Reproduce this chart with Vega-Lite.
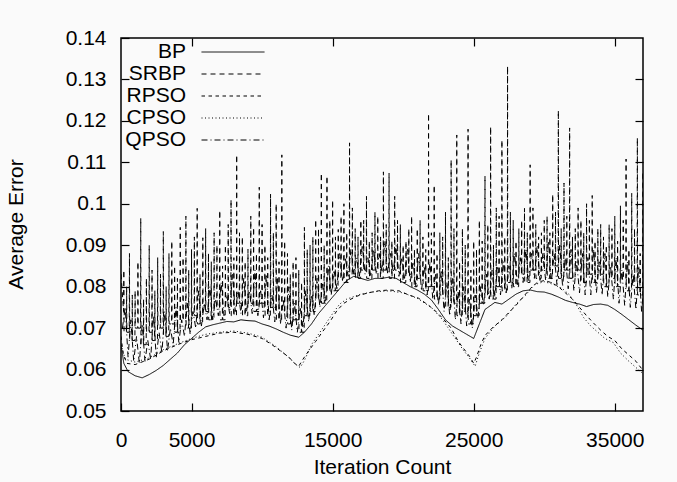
{
"$schema": "https://vega.github.io/schema/vega-lite/v6.json",
"autosize": {"type": "none"},
"padding": {"left": 121, "top": 38, "right": 34, "bottom": 71},
"width": 522,
"height": 373,
"background": "#fafafa",
"datasets": {
"d": [
{"s":"BP","x":0,"y":0.066},{"s":"BP","x":200,"y":0.0615},{"s":"BP","x":500,"y":0.0595},{"s":"BP","x":1000,"y":0.0585},{"s":"BP","x":1500,"y":0.058},{"s":"BP","x":2000,"y":0.0588},{"s":"BP","x":2500,"y":0.0598},{"s":"BP","x":3000,"y":0.061},{"s":"BP","x":3500,"y":0.0625},{"s":"BP","x":4000,"y":0.064},{"s":"BP","x":4500,"y":0.066},{"s":"BP","x":5000,"y":0.0675},{"s":"BP","x":5500,"y":0.069},{"s":"BP","x":6000,"y":0.0703},{"s":"BP","x":6500,"y":0.0708},{"s":"BP","x":7000,"y":0.0712},{"s":"BP","x":7500,"y":0.0716},{"s":"BP","x":8000,"y":0.0715},{"s":"BP","x":8500,"y":0.072},{"s":"BP","x":9000,"y":0.0718},{"s":"BP","x":9500,"y":0.0717},{"s":"BP","x":10000,"y":0.071},{"s":"BP","x":10500,"y":0.0705},{"s":"BP","x":11000,"y":0.0698},{"s":"BP","x":11500,"y":0.069},{"s":"BP","x":12000,"y":0.0683},{"s":"BP","x":12600,"y":0.0678},{"s":"BP","x":13000,"y":0.069},{"s":"BP","x":13500,"y":0.071},{"s":"BP","x":14000,"y":0.0735},{"s":"BP","x":14500,"y":0.0755},{"s":"BP","x":15000,"y":0.0775},{"s":"BP","x":15500,"y":0.0795},{"s":"BP","x":16000,"y":0.0815},{"s":"BP","x":16500,"y":0.0825},{"s":"BP","x":17000,"y":0.082},{"s":"BP","x":17500,"y":0.0815},{"s":"BP","x":18000,"y":0.082},{"s":"BP","x":18500,"y":0.082},{"s":"BP","x":19000,"y":0.0823},{"s":"BP","x":19500,"y":0.082},{"s":"BP","x":20000,"y":0.081},{"s":"BP","x":20500,"y":0.08},{"s":"BP","x":21000,"y":0.0792},{"s":"BP","x":21500,"y":0.0782},{"s":"BP","x":22000,"y":0.0768},{"s":"BP","x":22500,"y":0.0745},{"s":"BP","x":23000,"y":0.072},{"s":"BP","x":23500,"y":0.0705},{"s":"BP","x":24000,"y":0.0695},{"s":"BP","x":24500,"y":0.0685},{"s":"BP","x":25000,"y":0.0675},{"s":"BP","x":25400,"y":0.071},{"s":"BP","x":25800,"y":0.0745},{"s":"BP","x":26500,"y":0.0762},{"s":"BP","x":27000,"y":0.0758},{"s":"BP","x":27500,"y":0.077},{"s":"BP","x":28000,"y":0.0782},{"s":"BP","x":28500,"y":0.079},{"s":"BP","x":29000,"y":0.0792},{"s":"BP","x":29500,"y":0.0788},{"s":"BP","x":30000,"y":0.0787},{"s":"BP","x":30500,"y":0.0782},{"s":"BP","x":31000,"y":0.0775},{"s":"BP","x":31500,"y":0.0767},{"s":"BP","x":32000,"y":0.0762},{"s":"BP","x":32500,"y":0.0758},{"s":"BP","x":33000,"y":0.0752},{"s":"BP","x":33500,"y":0.0757},{"s":"BP","x":34000,"y":0.0758},{"s":"BP","x":34500,"y":0.0755},{"s":"BP","x":35000,"y":0.0745},{"s":"BP","x":35500,"y":0.0733},{"s":"BP","x":36000,"y":0.072},{"s":"BP","x":36500,"y":0.0707},{"s":"BP","x":37000,"y":0.0695},{"s":"BP","x":37500,"y":0.0683},

{"s":"RPSO","x":0,"y":0.068},{"s":"RPSO","x":150,"y":0.064},{"s":"RPSO","x":400,"y":0.0615},{"s":"RPSO","x":1000,"y":0.0612},{"s":"RPSO","x":2000,"y":0.0625},{"s":"RPSO","x":3000,"y":0.0645},{"s":"RPSO","x":4000,"y":0.066},{"s":"RPSO","x":5000,"y":0.0672},{"s":"RPSO","x":6000,"y":0.068},{"s":"RPSO","x":7000,"y":0.0688},{"s":"RPSO","x":8000,"y":0.069},{"s":"RPSO","x":9000,"y":0.0685},{"s":"RPSO","x":10000,"y":0.0675},{"s":"RPSO","x":10700,"y":0.066},{"s":"RPSO","x":11300,"y":0.0645},{"s":"RPSO","x":11900,"y":0.063},{"s":"RPSO","x":12300,"y":0.0615},{"s":"RPSO","x":12600,"y":0.0608},{"s":"RPSO","x":12900,"y":0.0625},{"s":"RPSO","x":13300,"y":0.0645},{"s":"RPSO","x":13800,"y":0.0668},{"s":"RPSO","x":14300,"y":0.0692},{"s":"RPSO","x":14800,"y":0.0715},{"s":"RPSO","x":15300,"y":0.0742},{"s":"RPSO","x":15800,"y":0.076},{"s":"RPSO","x":16300,"y":0.077},{"s":"RPSO","x":16800,"y":0.0778},{"s":"RPSO","x":17500,"y":0.0785},{"s":"RPSO","x":18250,"y":0.079},{"s":"RPSO","x":19000,"y":0.0792},{"s":"RPSO","x":19700,"y":0.079},{"s":"RPSO","x":20400,"y":0.078},{"s":"RPSO","x":21100,"y":0.0772},{"s":"RPSO","x":21800,"y":0.0755},{"s":"RPSO","x":22400,"y":0.0738},{"s":"RPSO","x":22900,"y":0.072},{"s":"RPSO","x":23400,"y":0.07},{"s":"RPSO","x":23900,"y":0.0668},{"s":"RPSO","x":24300,"y":0.065},{"s":"RPSO","x":24700,"y":0.0632},{"s":"RPSO","x":25000,"y":0.0615},{"s":"RPSO","x":25200,"y":0.063},{"s":"RPSO","x":25500,"y":0.066},{"s":"RPSO","x":25800,"y":0.0682},{"s":"RPSO","x":26300,"y":0.07},{"s":"RPSO","x":27000,"y":0.072},{"s":"RPSO","x":27500,"y":0.0738},{"s":"RPSO","x":28000,"y":0.0755},{"s":"RPSO","x":28500,"y":0.0775},{"s":"RPSO","x":29000,"y":0.0795},{"s":"RPSO","x":29500,"y":0.081},{"s":"RPSO","x":30000,"y":0.0815},{"s":"RPSO","x":30500,"y":0.081},{"s":"RPSO","x":31000,"y":0.08},{"s":"RPSO","x":31500,"y":0.0785},{"s":"RPSO","x":32000,"y":0.077},{"s":"RPSO","x":32500,"y":0.075},{"s":"RPSO","x":33000,"y":0.073},{"s":"RPSO","x":33500,"y":0.0712},{"s":"RPSO","x":34000,"y":0.0695},{"s":"RPSO","x":34500,"y":0.068},{"s":"RPSO","x":35000,"y":0.067},{"s":"RPSO","x":35500,"y":0.065},{"s":"RPSO","x":36000,"y":0.0635},{"s":"RPSO","x":36500,"y":0.062},{"s":"RPSO","x":37000,"y":0.0598},{"s":"RPSO","x":37500,"y":0.0575},

{"s":"CPSO","x":0,"y":0.066},{"s":"CPSO","x":300,"y":0.0625},{"s":"CPSO","x":1000,"y":0.0618},{"s":"CPSO","x":2000,"y":0.0628},{"s":"CPSO","x":3000,"y":0.0648},{"s":"CPSO","x":4000,"y":0.0662},{"s":"CPSO","x":5000,"y":0.0675},{"s":"CPSO","x":6000,"y":0.0685},{"s":"CPSO","x":7000,"y":0.069},{"s":"CPSO","x":8000,"y":0.0693},{"s":"CPSO","x":9000,"y":0.0688},{"s":"CPSO","x":10000,"y":0.0678},{"s":"CPSO","x":11000,"y":0.0655},{"s":"CPSO","x":11800,"y":0.0632},{"s":"CPSO","x":12400,"y":0.0612},{"s":"CPSO","x":12700,"y":0.0605},{"s":"CPSO","x":13000,"y":0.0622},{"s":"CPSO","x":13500,"y":0.066},{"s":"CPSO","x":14000,"y":0.0685},{"s":"CPSO","x":14500,"y":0.071},{"s":"CPSO","x":15000,"y":0.0735},{"s":"CPSO","x":15500,"y":0.0758},{"s":"CPSO","x":16000,"y":0.077},{"s":"CPSO","x":17000,"y":0.0782},{"s":"CPSO","x":18000,"y":0.0788},{"s":"CPSO","x":19000,"y":0.079},{"s":"CPSO","x":20000,"y":0.0785},{"s":"CPSO","x":21000,"y":0.0772},{"s":"CPSO","x":22000,"y":0.075},{"s":"CPSO","x":22800,"y":0.072},{"s":"CPSO","x":23500,"y":0.0685},{"s":"CPSO","x":24200,"y":0.065},{"s":"CPSO","x":24700,"y":0.0628},{"s":"CPSO","x":25100,"y":0.0608},{"s":"CPSO","x":25400,"y":0.064},{"s":"CPSO","x":25800,"y":0.0675},{"s":"CPSO","x":26500,"y":0.0705},{"s":"CPSO","x":27300,"y":0.0728},{"s":"CPSO","x":28000,"y":0.0758},{"s":"CPSO","x":28700,"y":0.078},{"s":"CPSO","x":29300,"y":0.0805},{"s":"CPSO","x":30000,"y":0.0812},{"s":"CPSO","x":30700,"y":0.0805},{"s":"CPSO","x":31300,"y":0.0795},{"s":"CPSO","x":31800,"y":0.078},{"s":"CPSO","x":32300,"y":0.0755},{"s":"CPSO","x":32800,"y":0.0725},{"s":"CPSO","x":33300,"y":0.0705},{"s":"CPSO","x":33800,"y":0.069},{"s":"CPSO","x":34300,"y":0.0675},{"s":"CPSO","x":34900,"y":0.0665},{"s":"CPSO","x":35400,"y":0.064},{"s":"CPSO","x":36000,"y":0.062},{"s":"CPSO","x":36500,"y":0.0605},{"s":"CPSO","x":37000,"y":0.059},{"s":"CPSO","x":37500,"y":0.0558},

{"s":"SRBP","x":0,"y":0.083},
{"s":"SRBP","x":185,"y":0.074},{"s":"SRBP","x":200,"y":0.084},{"s":"SRBP","x":215,"y":0.069},
{"s":"SRBP","x":385,"y":0.069},{"s":"SRBP","x":400,"y":0.08},{"s":"SRBP","x":415,"y":0.069},
{"s":"SRBP","x":585,"y":0.069},{"s":"SRBP","x":600,"y":0.088},{"s":"SRBP","x":615,"y":0.067},
{"s":"SRBP","x":785,"y":0.067},{"s":"SRBP","x":800,"y":0.078},{"s":"SRBP","x":815,"y":0.067},
{"s":"SRBP","x":985,"y":0.067},{"s":"SRBP","x":1000,"y":0.079},{"s":"SRBP","x":1015,"y":0.07},
{"s":"SRBP","x":1185,"y":0.07},{"s":"SRBP","x":1200,"y":0.086},{"s":"SRBP","x":1215,"y":0.07},
{"s":"SRBP","x":1385,"y":0.07},{"s":"SRBP","x":1400,"y":0.0965},{"s":"SRBP","x":1415,"y":0.066},
{"s":"SRBP","x":1585,"y":0.066},{"s":"SRBP","x":1600,"y":0.077},{"s":"SRBP","x":1615,"y":0.066},
{"s":"SRBP","x":1785,"y":0.066},{"s":"SRBP","x":1800,"y":0.082},{"s":"SRBP","x":1815,"y":0.069},
{"s":"SRBP","x":1985,"y":0.069},{"s":"SRBP","x":2000,"y":0.09},{"s":"SRBP","x":2015,"y":0.069},
{"s":"SRBP","x":2185,"y":0.069},{"s":"SRBP","x":2200,"y":0.084},{"s":"SRBP","x":2215,"y":0.067},
{"s":"SRBP","x":2385,"y":0.067},{"s":"SRBP","x":2400,"y":0.079},{"s":"SRBP","x":2415,"y":0.067},
{"s":"SRBP","x":2585,"y":0.067},{"s":"SRBP","x":2600,"y":0.087},{"s":"SRBP","x":2615,"y":0.07},
{"s":"SRBP","x":2785,"y":0.07},{"s":"SRBP","x":2800,"y":0.083},{"s":"SRBP","x":2815,"y":0.07},
{"s":"SRBP","x":2985,"y":0.07},{"s":"SRBP","x":3000,"y":0.0933},{"s":"SRBP","x":3015,"y":0.068},
{"s":"SRBP","x":3185,"y":0.068},{"s":"SRBP","x":3200,"y":0.08},{"s":"SRBP","x":3215,"y":0.068},
{"s":"SRBP","x":3385,"y":0.068},{"s":"SRBP","x":3400,"y":0.088},{"s":"SRBP","x":3415,"y":0.071},
{"s":"SRBP","x":3585,"y":0.071},{"s":"SRBP","x":3600,"y":0.091},{"s":"SRBP","x":3615,"y":0.071},
{"s":"SRBP","x":3785,"y":0.071},{"s":"SRBP","x":3800,"y":0.085},{"s":"SRBP","x":3815,"y":0.069},
{"s":"SRBP","x":3985,"y":0.069},{"s":"SRBP","x":4000,"y":0.082},{"s":"SRBP","x":4015,"y":0.069},
{"s":"SRBP","x":4185,"y":0.069},{"s":"SRBP","x":4200,"y":0.0943},{"s":"SRBP","x":4215,"y":0.072},
{"s":"SRBP","x":4385,"y":0.072},{"s":"SRBP","x":4400,"y":0.087},{"s":"SRBP","x":4415,"y":0.072},
{"s":"SRBP","x":4585,"y":0.072},{"s":"SRBP","x":4600,"y":0.097},{"s":"SRBP","x":4615,"y":0.07},
{"s":"SRBP","x":4785,"y":0.07},{"s":"SRBP","x":4800,"y":0.084},{"s":"SRBP","x":4815,"y":0.07},
{"s":"SRBP","x":4985,"y":0.07},{"s":"SRBP","x":5000,"y":0.089},{"s":"SRBP","x":5015,"y":0.073},
{"s":"SRBP","x":5185,"y":0.073},{"s":"SRBP","x":5200,"y":0.092},{"s":"SRBP","x":5215,"y":0.073},
{"s":"SRBP","x":5385,"y":0.073},{"s":"SRBP","x":5400,"y":0.0989},{"s":"SRBP","x":5415,"y":0.071},
{"s":"SRBP","x":5585,"y":0.071},{"s":"SRBP","x":5600,"y":0.083},{"s":"SRBP","x":5615,"y":0.071},
{"s":"SRBP","x":5785,"y":0.071},{"s":"SRBP","x":5800,"y":0.0918},{"s":"SRBP","x":5815,"y":0.074},
{"s":"SRBP","x":5985,"y":0.074},{"s":"SRBP","x":6000,"y":0.094},{"s":"SRBP","x":6015,"y":0.074},
{"s":"SRBP","x":6185,"y":0.074},{"s":"SRBP","x":6200,"y":0.088},{"s":"SRBP","x":6215,"y":0.072},
{"s":"SRBP","x":6385,"y":0.072},{"s":"SRBP","x":6400,"y":0.086},{"s":"SRBP","x":6415,"y":0.072},
{"s":"SRBP","x":6585,"y":0.072},{"s":"SRBP","x":6600,"y":0.093},{"s":"SRBP","x":6615,"y":0.075},
{"s":"SRBP","x":6785,"y":0.075},{"s":"SRBP","x":6800,"y":0.09},{"s":"SRBP","x":6815,"y":0.075},
{"s":"SRBP","x":6985,"y":0.075},{"s":"SRBP","x":7000,"y":0.0984},{"s":"SRBP","x":7015,"y":0.072},
{"s":"SRBP","x":7185,"y":0.072},{"s":"SRBP","x":7200,"y":0.085},{"s":"SRBP","x":7215,"y":0.072},
{"s":"SRBP","x":7385,"y":0.072},{"s":"SRBP","x":7400,"y":0.09},{"s":"SRBP","x":7415,"y":0.075},
{"s":"SRBP","x":7585,"y":0.075},{"s":"SRBP","x":7600,"y":0.095},{"s":"SRBP","x":7615,"y":0.075},
{"s":"SRBP","x":7785,"y":0.075},{"s":"SRBP","x":7800,"y":0.101},{"s":"SRBP","x":7815,"y":0.073},
{"s":"SRBP","x":7985,"y":0.073},{"s":"SRBP","x":8000,"y":0.087},{"s":"SRBP","x":8015,"y":0.073},
{"s":"SRBP","x":8185,"y":0.073},{"s":"SRBP","x":8200,"y":0.1118},{"s":"SRBP","x":8215,"y":0.076},
{"s":"SRBP","x":8385,"y":0.076},{"s":"SRBP","x":8400,"y":0.093},{"s":"SRBP","x":8415,"y":0.076},
{"s":"SRBP","x":8585,"y":0.076},{"s":"SRBP","x":8600,"y":0.092},{"s":"SRBP","x":8615,"y":0.073},
{"s":"SRBP","x":8785,"y":0.073},{"s":"SRBP","x":8800,"y":0.086},{"s":"SRBP","x":8815,"y":0.073},
{"s":"SRBP","x":8985,"y":0.073},{"s":"SRBP","x":9000,"y":0.089},{"s":"SRBP","x":9015,"y":0.076},
{"s":"SRBP","x":9185,"y":0.076},{"s":"SRBP","x":9200,"y":0.097},{"s":"SRBP","x":9215,"y":0.076},
{"s":"SRBP","x":9385,"y":0.076},{"s":"SRBP","x":9400,"y":0.0943},{"s":"SRBP","x":9415,"y":0.074},
{"s":"SRBP","x":9585,"y":0.074},{"s":"SRBP","x":9600,"y":0.088},{"s":"SRBP","x":9615,"y":0.074},
{"s":"SRBP","x":9785,"y":0.074},{"s":"SRBP","x":9800,"y":0.104},{"s":"SRBP","x":9815,"y":0.076},
{"s":"SRBP","x":9985,"y":0.076},{"s":"SRBP","x":10000,"y":0.095},{"s":"SRBP","x":10015,"y":0.076},
{"s":"SRBP","x":10185,"y":0.076},{"s":"SRBP","x":10200,"y":0.09},{"s":"SRBP","x":10215,"y":0.073},
{"s":"SRBP","x":10385,"y":0.073},{"s":"SRBP","x":10400,"y":0.087},{"s":"SRBP","x":10415,"y":0.073},
{"s":"SRBP","x":10585,"y":0.073},{"s":"SRBP","x":10600,"y":0.1023},{"s":"SRBP","x":10615,"y":0.075},
{"s":"SRBP","x":10785,"y":0.075},{"s":"SRBP","x":10800,"y":0.093},{"s":"SRBP","x":10815,"y":0.075},
{"s":"SRBP","x":10985,"y":0.075},{"s":"SRBP","x":11000,"y":0.1},{"s":"SRBP","x":11015,"y":0.072},
{"s":"SRBP","x":11185,"y":0.072},{"s":"SRBP","x":11200,"y":0.086},{"s":"SRBP","x":11215,"y":0.072},
{"s":"SRBP","x":11385,"y":0.072},{"s":"SRBP","x":11400,"y":0.1118},{"s":"SRBP","x":11415,"y":0.074},
{"s":"SRBP","x":11585,"y":0.074},{"s":"SRBP","x":11600,"y":0.091},{"s":"SRBP","x":11615,"y":0.074},
{"s":"SRBP","x":11785,"y":0.074},{"s":"SRBP","x":11800,"y":0.088},{"s":"SRBP","x":11815,"y":0.071},
{"s":"SRBP","x":11985,"y":0.071},{"s":"SRBP","x":12000,"y":0.083},{"s":"SRBP","x":12015,"y":0.071},
{"s":"SRBP","x":12185,"y":0.071},{"s":"SRBP","x":12200,"y":0.086},{"s":"SRBP","x":12215,"y":0.072},
{"s":"SRBP","x":12385,"y":0.072},{"s":"SRBP","x":12400,"y":0.087},{"s":"SRBP","x":12415,"y":0.072},
{"s":"SRBP","x":12585,"y":0.072},{"s":"SRBP","x":12600,"y":0.084},{"s":"SRBP","x":12615,"y":0.069},
{"s":"SRBP","x":12785,"y":0.069},{"s":"SRBP","x":12800,"y":0.081},{"s":"SRBP","x":12815,"y":0.069},
{"s":"SRBP","x":12985,"y":0.069},{"s":"SRBP","x":13000,"y":0.0943},{"s":"SRBP","x":13015,"y":0.073},
{"s":"SRBP","x":13185,"y":0.073},{"s":"SRBP","x":13200,"y":0.089},{"s":"SRBP","x":13215,"y":0.073},
{"s":"SRBP","x":13385,"y":0.073},{"s":"SRBP","x":13400,"y":0.09},{"s":"SRBP","x":13415,"y":0.074},
{"s":"SRBP","x":13585,"y":0.074},{"s":"SRBP","x":13600,"y":0.092},{"s":"SRBP","x":13615,"y":0.074},
{"s":"SRBP","x":13785,"y":0.074},{"s":"SRBP","x":13800,"y":0.0962},{"s":"SRBP","x":13815,"y":0.077},
{"s":"SRBP","x":13985,"y":0.077},{"s":"SRBP","x":14000,"y":0.094},{"s":"SRBP","x":14015,"y":0.077},
{"s":"SRBP","x":14185,"y":0.077},{"s":"SRBP","x":14200,"y":0.1074},{"s":"SRBP","x":14215,"y":0.076},
{"s":"SRBP","x":14385,"y":0.076},{"s":"SRBP","x":14400,"y":0.09},{"s":"SRBP","x":14415,"y":0.076},
{"s":"SRBP","x":14585,"y":0.076},{"s":"SRBP","x":14600,"y":0.1067},{"s":"SRBP","x":14615,"y":0.079},
{"s":"SRBP","x":14785,"y":0.079},{"s":"SRBP","x":14800,"y":0.096},{"s":"SRBP","x":14815,"y":0.079},
{"s":"SRBP","x":14985,"y":0.079},{"s":"SRBP","x":15000,"y":0.1009},{"s":"SRBP","x":15015,"y":0.079},
{"s":"SRBP","x":15185,"y":0.079},{"s":"SRBP","x":15200,"y":0.092},{"s":"SRBP","x":15215,"y":0.079},
{"s":"SRBP","x":15385,"y":0.079},{"s":"SRBP","x":15400,"y":0.0938},{"s":"SRBP","x":15415,"y":0.082},
{"s":"SRBP","x":15585,"y":0.082},{"s":"SRBP","x":15600,"y":0.097},{"s":"SRBP","x":15615,"y":0.082},
{"s":"SRBP","x":15785,"y":0.082},{"s":"SRBP","x":15800,"y":0.1},{"s":"SRBP","x":15815,"y":0.081},
{"s":"SRBP","x":15985,"y":0.081},{"s":"SRBP","x":16000,"y":0.093},{"s":"SRBP","x":16015,"y":0.081},
{"s":"SRBP","x":16185,"y":0.081},{"s":"SRBP","x":16200,"y":0.1147},{"s":"SRBP","x":16215,"y":0.083},
{"s":"SRBP","x":16385,"y":0.083},{"s":"SRBP","x":16400,"y":0.099},{"s":"SRBP","x":16415,"y":0.083},
{"s":"SRBP","x":16585,"y":0.083},{"s":"SRBP","x":16600,"y":0.094},{"s":"SRBP","x":16615,"y":0.082},
{"s":"SRBP","x":16785,"y":0.082},{"s":"SRBP","x":16800,"y":0.092},{"s":"SRBP","x":16815,"y":0.082},
{"s":"SRBP","x":16985,"y":0.082},{"s":"SRBP","x":17000,"y":0.096},{"s":"SRBP","x":17015,"y":0.084},
{"s":"SRBP","x":17185,"y":0.084},{"s":"SRBP","x":17200,"y":0.096},{"s":"SRBP","x":17215,"y":0.084},
{"s":"SRBP","x":17385,"y":0.084},{"s":"SRBP","x":17400,"y":0.1018},{"s":"SRBP","x":17415,"y":0.082},
{"s":"SRBP","x":17585,"y":0.082},{"s":"SRBP","x":17600,"y":0.091},{"s":"SRBP","x":17615,"y":0.082},
{"s":"SRBP","x":17785,"y":0.082},{"s":"SRBP","x":17800,"y":0.093},{"s":"SRBP","x":17815,"y":0.084},
{"s":"SRBP","x":17985,"y":0.084},{"s":"SRBP","x":18000,"y":0.098},{"s":"SRBP","x":18015,"y":0.084},
{"s":"SRBP","x":18185,"y":0.084},{"s":"SRBP","x":18200,"y":0.097},{"s":"SRBP","x":18215,"y":0.082},
{"s":"SRBP","x":18385,"y":0.082},{"s":"SRBP","x":18400,"y":0.092},{"s":"SRBP","x":18415,"y":0.082},
{"s":"SRBP","x":18585,"y":0.082},{"s":"SRBP","x":18600,"y":0.1077},{"s":"SRBP","x":18615,"y":0.084},
{"s":"SRBP","x":18785,"y":0.084},{"s":"SRBP","x":18800,"y":0.095},{"s":"SRBP","x":18815,"y":0.084},
{"s":"SRBP","x":18985,"y":0.084},{"s":"SRBP","x":19000,"y":0.1074},{"s":"SRBP","x":19015,"y":0.082},
{"s":"SRBP","x":19185,"y":0.082},{"s":"SRBP","x":19200,"y":0.091},{"s":"SRBP","x":19215,"y":0.082},
{"s":"SRBP","x":19385,"y":0.082},{"s":"SRBP","x":19400,"y":0.1018},{"s":"SRBP","x":19415,"y":0.084},
{"s":"SRBP","x":19585,"y":0.084},{"s":"SRBP","x":19600,"y":0.096},{"s":"SRBP","x":19615,"y":0.084},
{"s":"SRBP","x":19785,"y":0.084},{"s":"SRBP","x":19800,"y":0.095},{"s":"SRBP","x":19815,"y":0.081},
{"s":"SRBP","x":19985,"y":0.081},{"s":"SRBP","x":20000,"y":0.09},{"s":"SRBP","x":20015,"y":0.081},
{"s":"SRBP","x":20185,"y":0.081},{"s":"SRBP","x":20200,"y":0.091},{"s":"SRBP","x":20215,"y":0.083},
{"s":"SRBP","x":20385,"y":0.083},{"s":"SRBP","x":20400,"y":0.094},{"s":"SRBP","x":20415,"y":0.083},
{"s":"SRBP","x":20585,"y":0.083},{"s":"SRBP","x":20600,"y":0.097},{"s":"SRBP","x":20615,"y":0.08},
{"s":"SRBP","x":20785,"y":0.08},{"s":"SRBP","x":20800,"y":0.089},{"s":"SRBP","x":20815,"y":0.08},
{"s":"SRBP","x":20985,"y":0.08},{"s":"SRBP","x":21000,"y":0.094},{"s":"SRBP","x":21015,"y":0.082},
{"s":"SRBP","x":21185,"y":0.082},{"s":"SRBP","x":21200,"y":0.096},{"s":"SRBP","x":21215,"y":0.082},
{"s":"SRBP","x":21385,"y":0.082},{"s":"SRBP","x":21400,"y":0.092},{"s":"SRBP","x":21415,"y":0.079},
{"s":"SRBP","x":21585,"y":0.079},{"s":"SRBP","x":21600,"y":0.089},{"s":"SRBP","x":21615,"y":0.079},
{"s":"SRBP","x":21785,"y":0.079},{"s":"SRBP","x":21800,"y":0.1218},{"s":"SRBP","x":21815,"y":0.08},
{"s":"SRBP","x":21985,"y":0.08},{"s":"SRBP","x":22000,"y":0.093},{"s":"SRBP","x":22015,"y":0.08},
{"s":"SRBP","x":22185,"y":0.08},{"s":"SRBP","x":22200,"y":0.1045},{"s":"SRBP","x":22215,"y":0.077},
{"s":"SRBP","x":22385,"y":0.077},{"s":"SRBP","x":22400,"y":0.088},{"s":"SRBP","x":22415,"y":0.077},
{"s":"SRBP","x":22585,"y":0.077},{"s":"SRBP","x":22600,"y":0.093},{"s":"SRBP","x":22615,"y":0.078},
{"s":"SRBP","x":22785,"y":0.078},{"s":"SRBP","x":22800,"y":0.092},{"s":"SRBP","x":22815,"y":0.078},
{"s":"SRBP","x":22985,"y":0.078},{"s":"SRBP","x":23000,"y":0.098},{"s":"SRBP","x":23015,"y":0.075},
{"s":"SRBP","x":23185,"y":0.075},{"s":"SRBP","x":23200,"y":0.087},{"s":"SRBP","x":23215,"y":0.075},
{"s":"SRBP","x":23385,"y":0.075},{"s":"SRBP","x":23400,"y":0.1106},{"s":"SRBP","x":23415,"y":0.076},
{"s":"SRBP","x":23585,"y":0.076},{"s":"SRBP","x":23600,"y":0.094},{"s":"SRBP","x":23615,"y":0.076},
{"s":"SRBP","x":23785,"y":0.076},{"s":"SRBP","x":23800,"y":0.1166},{"s":"SRBP","x":23815,"y":0.073},
{"s":"SRBP","x":23985,"y":0.073},{"s":"SRBP","x":24000,"y":0.086},{"s":"SRBP","x":24015,"y":0.073},
{"s":"SRBP","x":24185,"y":0.073},{"s":"SRBP","x":24200,"y":0.094},{"s":"SRBP","x":24215,"y":0.074},
{"s":"SRBP","x":24385,"y":0.074},{"s":"SRBP","x":24400,"y":0.09},{"s":"SRBP","x":24415,"y":0.074},
{"s":"SRBP","x":24585,"y":0.074},{"s":"SRBP","x":24600,"y":0.118},{"s":"SRBP","x":24615,"y":0.071},
{"s":"SRBP","x":24785,"y":0.071},{"s":"SRBP","x":24800,"y":0.084},{"s":"SRBP","x":24815,"y":0.071},
{"s":"SRBP","x":24985,"y":0.071},{"s":"SRBP","x":25000,"y":0.091},{"s":"SRBP","x":25015,"y":0.073},
{"s":"SRBP","x":25185,"y":0.073},{"s":"SRBP","x":25200,"y":0.089},{"s":"SRBP","x":25215,"y":0.073},
{"s":"SRBP","x":25385,"y":0.073},{"s":"SRBP","x":25400,"y":0.096},{"s":"SRBP","x":25415,"y":0.076},
{"s":"SRBP","x":25585,"y":0.076},{"s":"SRBP","x":25600,"y":0.091},{"s":"SRBP","x":25615,"y":0.076},
{"s":"SRBP","x":25785,"y":0.076},{"s":"SRBP","x":25800,"y":0.1067},{"s":"SRBP","x":25815,"y":0.078},
{"s":"SRBP","x":25985,"y":0.078},{"s":"SRBP","x":26000,"y":0.095},{"s":"SRBP","x":26015,"y":0.078},
{"s":"SRBP","x":26185,"y":0.078},{"s":"SRBP","x":26200,"y":0.1186},{"s":"SRBP","x":26215,"y":0.077},
{"s":"SRBP","x":26385,"y":0.077},{"s":"SRBP","x":26400,"y":0.09},{"s":"SRBP","x":26415,"y":0.077},
{"s":"SRBP","x":26585,"y":0.077},{"s":"SRBP","x":26600,"y":0.099},{"s":"SRBP","x":26615,"y":0.08},
{"s":"SRBP","x":26785,"y":0.08},{"s":"SRBP","x":26800,"y":0.097},{"s":"SRBP","x":26815,"y":0.08},
{"s":"SRBP","x":26985,"y":0.08},{"s":"SRBP","x":27000,"y":0.1154},{"s":"SRBP","x":27015,"y":0.079},
{"s":"SRBP","x":27185,"y":0.079},{"s":"SRBP","x":27200,"y":0.092},{"s":"SRBP","x":27215,"y":0.079},
{"s":"SRBP","x":27385,"y":0.079},{"s":"SRBP","x":27400,"y":0.1332},{"s":"SRBP","x":27415,"y":0.081},
{"s":"SRBP","x":27585,"y":0.081},{"s":"SRBP","x":27600,"y":0.098},{"s":"SRBP","x":27615,"y":0.081},
{"s":"SRBP","x":27785,"y":0.081},{"s":"SRBP","x":27800,"y":0.096},{"s":"SRBP","x":27815,"y":0.08},
{"s":"SRBP","x":27985,"y":0.08},{"s":"SRBP","x":28000,"y":0.091},{"s":"SRBP","x":28015,"y":0.08},
{"s":"SRBP","x":28185,"y":0.08},{"s":"SRBP","x":28200,"y":0.094},{"s":"SRBP","x":28215,"y":0.083},
{"s":"SRBP","x":28385,"y":0.083},{"s":"SRBP","x":28400,"y":0.096},{"s":"SRBP","x":28415,"y":0.083},
{"s":"SRBP","x":28585,"y":0.083},{"s":"SRBP","x":28600,"y":0.0989},{"s":"SRBP","x":28615,"y":0.081},
{"s":"SRBP","x":28785,"y":0.081},{"s":"SRBP","x":28800,"y":0.093},{"s":"SRBP","x":28815,"y":0.081},
{"s":"SRBP","x":28985,"y":0.081},{"s":"SRBP","x":29000,"y":0.1094},{"s":"SRBP","x":29015,"y":0.084},
{"s":"SRBP","x":29185,"y":0.084},{"s":"SRBP","x":29200,"y":0.099},{"s":"SRBP","x":29215,"y":0.084},
{"s":"SRBP","x":29385,"y":0.084},{"s":"SRBP","x":29400,"y":0.095},{"s":"SRBP","x":29415,"y":0.082},
{"s":"SRBP","x":29585,"y":0.082},{"s":"SRBP","x":29600,"y":0.092},{"s":"SRBP","x":29615,"y":0.082},
{"s":"SRBP","x":29785,"y":0.082},{"s":"SRBP","x":29800,"y":0.093},{"s":"SRBP","x":29815,"y":0.084},
{"s":"SRBP","x":29985,"y":0.084},{"s":"SRBP","x":30000,"y":0.096},{"s":"SRBP","x":30015,"y":0.084},
{"s":"SRBP","x":30185,"y":0.084},{"s":"SRBP","x":30200,"y":0.097},{"s":"SRBP","x":30215,"y":0.082},
{"s":"SRBP","x":30385,"y":0.082},{"s":"SRBP","x":30400,"y":0.093},{"s":"SRBP","x":30415,"y":0.082},
{"s":"SRBP","x":30585,"y":0.082},{"s":"SRBP","x":30600,"y":0.1023},{"s":"SRBP","x":30615,"y":0.085},
{"s":"SRBP","x":30785,"y":0.085},{"s":"SRBP","x":30800,"y":0.098},{"s":"SRBP","x":30815,"y":0.085},
{"s":"SRBP","x":30985,"y":0.085},{"s":"SRBP","x":31000,"y":0.1225},{"s":"SRBP","x":31015,"y":0.082},
{"s":"SRBP","x":31185,"y":0.082},{"s":"SRBP","x":31200,"y":0.094},{"s":"SRBP","x":31215,"y":0.082},
{"s":"SRBP","x":31385,"y":0.082},{"s":"SRBP","x":31400,"y":0.105},{"s":"SRBP","x":31415,"y":0.084},
{"s":"SRBP","x":31585,"y":0.084},{"s":"SRBP","x":31600,"y":0.097},{"s":"SRBP","x":31615,"y":0.084},
{"s":"SRBP","x":31785,"y":0.084},{"s":"SRBP","x":31800,"y":0.1183},{"s":"SRBP","x":31815,"y":0.082},
{"s":"SRBP","x":31985,"y":0.082},{"s":"SRBP","x":32000,"y":0.092},{"s":"SRBP","x":32015,"y":0.082},
{"s":"SRBP","x":32185,"y":0.082},{"s":"SRBP","x":32200,"y":0.094},{"s":"SRBP","x":32215,"y":0.084},
{"s":"SRBP","x":32385,"y":0.084},{"s":"SRBP","x":32400,"y":0.099},{"s":"SRBP","x":32415,"y":0.084},
{"s":"SRBP","x":32585,"y":0.084},{"s":"SRBP","x":32600,"y":0.096},{"s":"SRBP","x":32615,"y":0.081},
{"s":"SRBP","x":32785,"y":0.081},{"s":"SRBP","x":32800,"y":0.093},{"s":"SRBP","x":32815,"y":0.081},
{"s":"SRBP","x":32985,"y":0.081},{"s":"SRBP","x":33000,"y":0.1},{"s":"SRBP","x":33015,"y":0.083},
{"s":"SRBP","x":33185,"y":0.083},{"s":"SRBP","x":33200,"y":0.096},{"s":"SRBP","x":33215,"y":0.083},
{"s":"SRBP","x":33385,"y":0.083},{"s":"SRBP","x":33400,"y":0.102},{"s":"SRBP","x":33415,"y":0.081},
{"s":"SRBP","x":33585,"y":0.081},{"s":"SRBP","x":33600,"y":0.091},{"s":"SRBP","x":33615,"y":0.081},
{"s":"SRBP","x":33785,"y":0.081},{"s":"SRBP","x":33800,"y":0.094},{"s":"SRBP","x":33815,"y":0.083},
{"s":"SRBP","x":33985,"y":0.083},{"s":"SRBP","x":34000,"y":0.095},{"s":"SRBP","x":34015,"y":0.083},
{"s":"SRBP","x":34185,"y":0.083},{"s":"SRBP","x":34200,"y":0.092},{"s":"SRBP","x":34215,"y":0.08},
{"s":"SRBP","x":34385,"y":0.08},{"s":"SRBP","x":34400,"y":0.09},{"s":"SRBP","x":34415,"y":0.08},
{"s":"SRBP","x":34585,"y":0.08},{"s":"SRBP","x":34600,"y":0.095},{"s":"SRBP","x":34615,"y":0.082},
{"s":"SRBP","x":34785,"y":0.082},{"s":"SRBP","x":34800,"y":0.094},{"s":"SRBP","x":34815,"y":0.082},
{"s":"SRBP","x":34985,"y":0.082},{"s":"SRBP","x":35000,"y":0.097},{"s":"SRBP","x":35015,"y":0.08},
{"s":"SRBP","x":35185,"y":0.08},{"s":"SRBP","x":35200,"y":0.091},{"s":"SRBP","x":35215,"y":0.08},
{"s":"SRBP","x":35385,"y":0.08},{"s":"SRBP","x":35400,"y":0.0995},{"s":"SRBP","x":35415,"y":0.082},
{"s":"SRBP","x":35585,"y":0.082},{"s":"SRBP","x":35600,"y":0.096},{"s":"SRBP","x":35615,"y":0.082},
{"s":"SRBP","x":35785,"y":0.082},{"s":"SRBP","x":35800,"y":0.1108},{"s":"SRBP","x":35815,"y":0.079},
{"s":"SRBP","x":35985,"y":0.079},{"s":"SRBP","x":36000,"y":0.089},{"s":"SRBP","x":36015,"y":0.079},
{"s":"SRBP","x":36185,"y":0.079},{"s":"SRBP","x":36200,"y":0.1025},{"s":"SRBP","x":36215,"y":0.081},
{"s":"SRBP","x":36385,"y":0.081},{"s":"SRBP","x":36400,"y":0.094},{"s":"SRBP","x":36415,"y":0.081},
{"s":"SRBP","x":36585,"y":0.081},{"s":"SRBP","x":36600,"y":0.1159},{"s":"SRBP","x":36615,"y":0.078},
{"s":"SRBP","x":36785,"y":0.078},{"s":"SRBP","x":36800,"y":0.088},{"s":"SRBP","x":36815,"y":0.078},
{"s":"SRBP","x":36985,"y":0.078},{"s":"SRBP","x":37000,"y":0.1077},{"s":"SRBP","x":37015,"y":0.08},
{"s":"SRBP","x":37185,"y":0.08},{"s":"SRBP","x":37200,"y":0.092},{"s":"SRBP","x":37215,"y":0.08},
{"s":"SRBP","x":37385,"y":0.08},{"s":"SRBP","x":37400,"y":0.094},{"s":"SRBP","x":37415,"y":0.078},

{"s":"QPSO","x":100,"y":0.07},{"s":"QPSO","x":300,"y":0.075},{"s":"QPSO","x":500,"y":0.063},{"s":"QPSO","x":700,"y":0.072},{"s":"QPSO","x":900,"y":0.062},{"s":"QPSO","x":1100,"y":0.068},{"s":"QPSO","x":1300,"y":0.0615},{"s":"QPSO","x":1500,"y":0.071},{"s":"QPSO","x":1700,"y":0.062},{"s":"QPSO","x":1900,"y":0.067},{"s":"QPSO","x":2100,"y":0.0625},{"s":"QPSO","x":2300,"y":0.073},{"s":"QPSO","x":2500,"y":0.063},{"s":"QPSO","x":2700,"y":0.069},{"s":"QPSO","x":2900,"y":0.064},{"s":"QPSO","x":3100,"y":0.074},{"s":"QPSO","x":3300,"y":0.0645},{"s":"QPSO","x":3500,"y":0.07},{"s":"QPSO","x":3700,"y":0.066},{"s":"QPSO","x":3900,"y":0.075},{"s":"QPSO","x":4100,"y":0.0665},{"s":"QPSO","x":4300,"y":0.072},{"s":"QPSO","x":4500,"y":0.068},{"s":"QPSO","x":4700,"y":0.076},{"s":"QPSO","x":4900,"y":0.0685},{"s":"QPSO","x":5100,"y":0.074},{"s":"QPSO","x":5300,"y":0.07},{"s":"QPSO","x":5500,"y":0.079},{"s":"QPSO","x":5700,"y":0.0705},{"s":"QPSO","x":5900,"y":0.076},{"s":"QPSO","x":6100,"y":0.072},{"s":"QPSO","x":6300,"y":0.08},{"s":"QPSO","x":6500,"y":0.072},{"s":"QPSO","x":6700,"y":0.077},{"s":"QPSO","x":6900,"y":0.073},{"s":"QPSO","x":7100,"y":0.081},{"s":"QPSO","x":7300,"y":0.073},{"s":"QPSO","x":7500,"y":0.078},{"s":"QPSO","x":7700,"y":0.0735},{"s":"QPSO","x":7900,"y":0.083},{"s":"QPSO","x":8100,"y":0.074},{"s":"QPSO","x":8300,"y":0.079},{"s":"QPSO","x":8500,"y":0.0735},{"s":"QPSO","x":8700,"y":0.082},{"s":"QPSO","x":8900,"y":0.074},{"s":"QPSO","x":9100,"y":0.079},{"s":"QPSO","x":9300,"y":0.0735},{"s":"QPSO","x":9500,"y":0.084},{"s":"QPSO","x":9700,"y":0.073},{"s":"QPSO","x":9900,"y":0.079},{"s":"QPSO","x":10100,"y":0.0725},{"s":"QPSO","x":10300,"y":0.083},{"s":"QPSO","x":10500,"y":0.072},{"s":"QPSO","x":10700,"y":0.078},{"s":"QPSO","x":10900,"y":0.0715},{"s":"QPSO","x":11100,"y":0.082},{"s":"QPSO","x":11300,"y":0.071},{"s":"QPSO","x":11500,"y":0.077},{"s":"QPSO","x":11700,"y":0.07},{"s":"QPSO","x":11900,"y":0.08},{"s":"QPSO","x":12100,"y":0.0695},{"s":"QPSO","x":12300,"y":0.076},{"s":"QPSO","x":12500,"y":0.069},{"s":"QPSO","x":12700,"y":0.075},{"s":"QPSO","x":12900,"y":0.07},{"s":"QPSO","x":13100,"y":0.079},{"s":"QPSO","x":13300,"y":0.0715},{"s":"QPSO","x":13500,"y":0.078},{"s":"QPSO","x":13700,"y":0.073},{"s":"QPSO","x":13900,"y":0.082},{"s":"QPSO","x":14100,"y":0.075},{"s":"QPSO","x":14300,"y":0.081},{"s":"QPSO","x":14500,"y":0.0765},{"s":"QPSO","x":14700,"y":0.085},{"s":"QPSO","x":14900,"y":0.078},{"s":"QPSO","x":15100,"y":0.084},{"s":"QPSO","x":15300,"y":0.0795},{"s":"QPSO","x":15500,"y":0.088},{"s":"QPSO","x":15700,"y":0.0815},{"s":"QPSO","x":15900,"y":0.087},{"s":"QPSO","x":16100,"y":0.0825},{"s":"QPSO","x":16300,"y":0.089},{"s":"QPSO","x":16500,"y":0.083},{"s":"QPSO","x":16700,"y":0.087},{"s":"QPSO","x":16900,"y":0.0825},{"s":"QPSO","x":17100,"y":0.09},{"s":"QPSO","x":17300,"y":0.083},{"s":"QPSO","x":17500,"y":0.087},{"s":"QPSO","x":17700,"y":0.0825},{"s":"QPSO","x":17900,"y":0.089},{"s":"QPSO","x":18100,"y":0.083},{"s":"QPSO","x":18300,"y":0.088},{"s":"QPSO","x":18500,"y":0.0835},{"s":"QPSO","x":18700,"y":0.091},{"s":"QPSO","x":18900,"y":0.083},{"s":"QPSO","x":19100,"y":0.088},{"s":"QPSO","x":19300,"y":0.0835},{"s":"QPSO","x":19500,"y":0.09},{"s":"QPSO","x":19700,"y":0.0825},{"s":"QPSO","x":19900,"y":0.087},{"s":"QPSO","x":20100,"y":0.082},{"s":"QPSO","x":20300,"y":0.089},{"s":"QPSO","x":20500,"y":0.081},{"s":"QPSO","x":20700,"y":0.086},{"s":"QPSO","x":20900,"y":0.08},{"s":"QPSO","x":21100,"y":0.088},{"s":"QPSO","x":21300,"y":0.079},{"s":"QPSO","x":21500,"y":0.085},{"s":"QPSO","x":21700,"y":0.078},{"s":"QPSO","x":21900,"y":0.086},{"s":"QPSO","x":22100,"y":0.077},{"s":"QPSO","x":22300,"y":0.083},{"s":"QPSO","x":22500,"y":0.0755},{"s":"QPSO","x":22700,"y":0.084},{"s":"QPSO","x":22900,"y":0.074},{"s":"QPSO","x":23100,"y":0.081},{"s":"QPSO","x":23300,"y":0.073},{"s":"QPSO","x":23500,"y":0.082},{"s":"QPSO","x":23700,"y":0.072},{"s":"QPSO","x":23900,"y":0.079},{"s":"QPSO","x":24100,"y":0.071},{"s":"QPSO","x":24300,"y":0.08},{"s":"QPSO","x":24500,"y":0.0705},{"s":"QPSO","x":24700,"y":0.077},{"s":"QPSO","x":24900,"y":0.07},{"s":"QPSO","x":25100,"y":0.078},{"s":"QPSO","x":25300,"y":0.0725},{"s":"QPSO","x":25500,"y":0.08},{"s":"QPSO","x":25700,"y":0.0755},{"s":"QPSO","x":25900,"y":0.083},{"s":"QPSO","x":26100,"y":0.077},{"s":"QPSO","x":26300,"y":0.084},{"s":"QPSO","x":26500,"y":0.0775},{"s":"QPSO","x":26700,"y":0.085},{"s":"QPSO","x":26900,"y":0.078},{"s":"QPSO","x":27100,"y":0.086},{"s":"QPSO","x":27300,"y":0.0785},{"s":"QPSO","x":27500,"y":0.085},{"s":"QPSO","x":27700,"y":0.0795},{"s":"QPSO","x":27900,"y":0.088},{"s":"QPSO","x":28100,"y":0.0805},{"s":"QPSO","x":28300,"y":0.087},{"s":"QPSO","x":28500,"y":0.081},{"s":"QPSO","x":28700,"y":0.089},{"s":"QPSO","x":28900,"y":0.0815},{"s":"QPSO","x":29100,"y":0.088},{"s":"QPSO","x":29300,"y":0.082},{"s":"QPSO","x":29500,"y":0.09},{"s":"QPSO","x":29700,"y":0.0815},{"s":"QPSO","x":29900,"y":0.088},{"s":"QPSO","x":30100,"y":0.0815},{"s":"QPSO","x":30300,"y":0.091},{"s":"QPSO","x":30500,"y":0.081},{"s":"QPSO","x":30700,"y":0.088},{"s":"QPSO","x":30900,"y":0.0805},{"s":"QPSO","x":31100,"y":0.09},{"s":"QPSO","x":31300,"y":0.08},{"s":"QPSO","x":31500,"y":0.087},{"s":"QPSO","x":31700,"y":0.0795},{"s":"QPSO","x":31900,"y":0.089},{"s":"QPSO","x":32100,"y":0.079},{"s":"QPSO","x":32300,"y":0.086},{"s":"QPSO","x":32500,"y":0.0785},{"s":"QPSO","x":32700,"y":0.088},{"s":"QPSO","x":32900,"y":0.078},{"s":"QPSO","x":33100,"y":0.087},{"s":"QPSO","x":33300,"y":0.078},{"s":"QPSO","x":33500,"y":0.089},{"s":"QPSO","x":33700,"y":0.0785},{"s":"QPSO","x":33900,"y":0.086},{"s":"QPSO","x":34100,"y":0.078},{"s":"QPSO","x":34300,"y":0.088},{"s":"QPSO","x":34500,"y":0.0775},{"s":"QPSO","x":34700,"y":0.085},{"s":"QPSO","x":34900,"y":0.077},{"s":"QPSO","x":35100,"y":0.087},{"s":"QPSO","x":35300,"y":0.076},{"s":"QPSO","x":35500,"y":0.084},{"s":"QPSO","x":35700,"y":0.0755},{"s":"QPSO","x":35900,"y":0.086},{"s":"QPSO","x":36100,"y":0.075},{"s":"QPSO","x":36300,"y":0.083},{"s":"QPSO","x":36500,"y":0.0745},{"s":"QPSO","x":36700,"y":0.085},{"s":"QPSO","x":36900,"y":0.074},{"s":"QPSO","x":37100,"y":0.082},{"s":"QPSO","x":37300,"y":0.0735},{"s":"QPSO","x":37500,"y":0.08}
]
},
"data": {"name": "d"},
"resolve": {"axis": {"x": "independent", "y": "independent"}},
"layer": [
{
"mark": {"type": "line", "color": "#000", "clip": true, "strokeWidth": 1},
"encoding": {
"x": {"field": "x", "type": "quantitative", "scale": {"domain": [0, 37000], "nice": false, "zero": false},
 "axis": {"orient": "bottom", "values": [0, 5000, 15000, 25000, 35000], "format": "d", "title": "Iteration Count", "labelPadding": 26, "titleY": 56, "titleBaseline": "middle", "labelFlush": false, "labelOverlap": false}},
"y": {"field": "y", "type": "quantitative", "scale": {"domain": [0.05, 0.14], "nice": false, "zero": false},
 "axis": {"orient": "left", "values": [0.05, 0.06, 0.07, 0.08, 0.09, 0.1, 0.11, 0.12, 0.13, 0.14], "format": "~g", "title": "Average Error", "labelPadding": 23, "titleX": -105, "titleY": 186, "titleBaseline": "middle", "titleAlign": "center", "labelOverlap": false}},
"strokeDash": {"field": "s", "type": "nominal",
 "scale": {"domain": ["BP", "SRBP", "RPSO", "CPSO", "QPSO"], "range": [[1, 0], [5, 4], [3.5, 3.5], [1, 2.5], [6, 3, 1, 3]]},
 "legend": {"orient": "none", "legendX": 101, "legendY": 3, "title": null, "symbolType": "M-3,0H3", "symbolSize": 441, "symbolStrokeWidth": 1, "symbolStrokeColor": "#000", "symbolFillColor": "transparent", "rowPadding": 1, "labelFontSize": 21, "labelAlign": "right", "labelOffset": -58, "labelColor": "#000", "labelLimit": 0, "padding": 0, "labelFont": "Liberation Sans"}},
"strokeWidth": {"condition": {"test": "datum.s === 'BP'", "value": 1.8}, "value": 1}
}
},
{
"mark": {"type": "point", "opacity": 0},
"encoding": {
"x": {"field": "x", "type": "quantitative", "axis": {"orient": "top", "values": [5000, 15000, 25000, 35000], "labels": false, "title": null}},
"y": {"field": "y", "type": "quantitative", "axis": {"orient": "right", "values": [0.06, 0.07, 0.08, 0.09, 0.1, 0.11, 0.12, 0.13], "labels": false, "title": null}}
}
}
],
"config": {
"font": "Liberation Sans",
"view": {"stroke": "#000", "strokeWidth": 1.5},
"axis": {"domain": false, "grid": false, "tickColor": "#000", "tickSize": -8, "tickWidth": 1.2, "labelFontSize": 21, "labelColor": "#000", "titleFontSize": 21, "titleColor": "#000", "titleFontWeight": "normal", "labelFont": "Liberation Sans", "titleFont": "Liberation Sans"}
}
}
